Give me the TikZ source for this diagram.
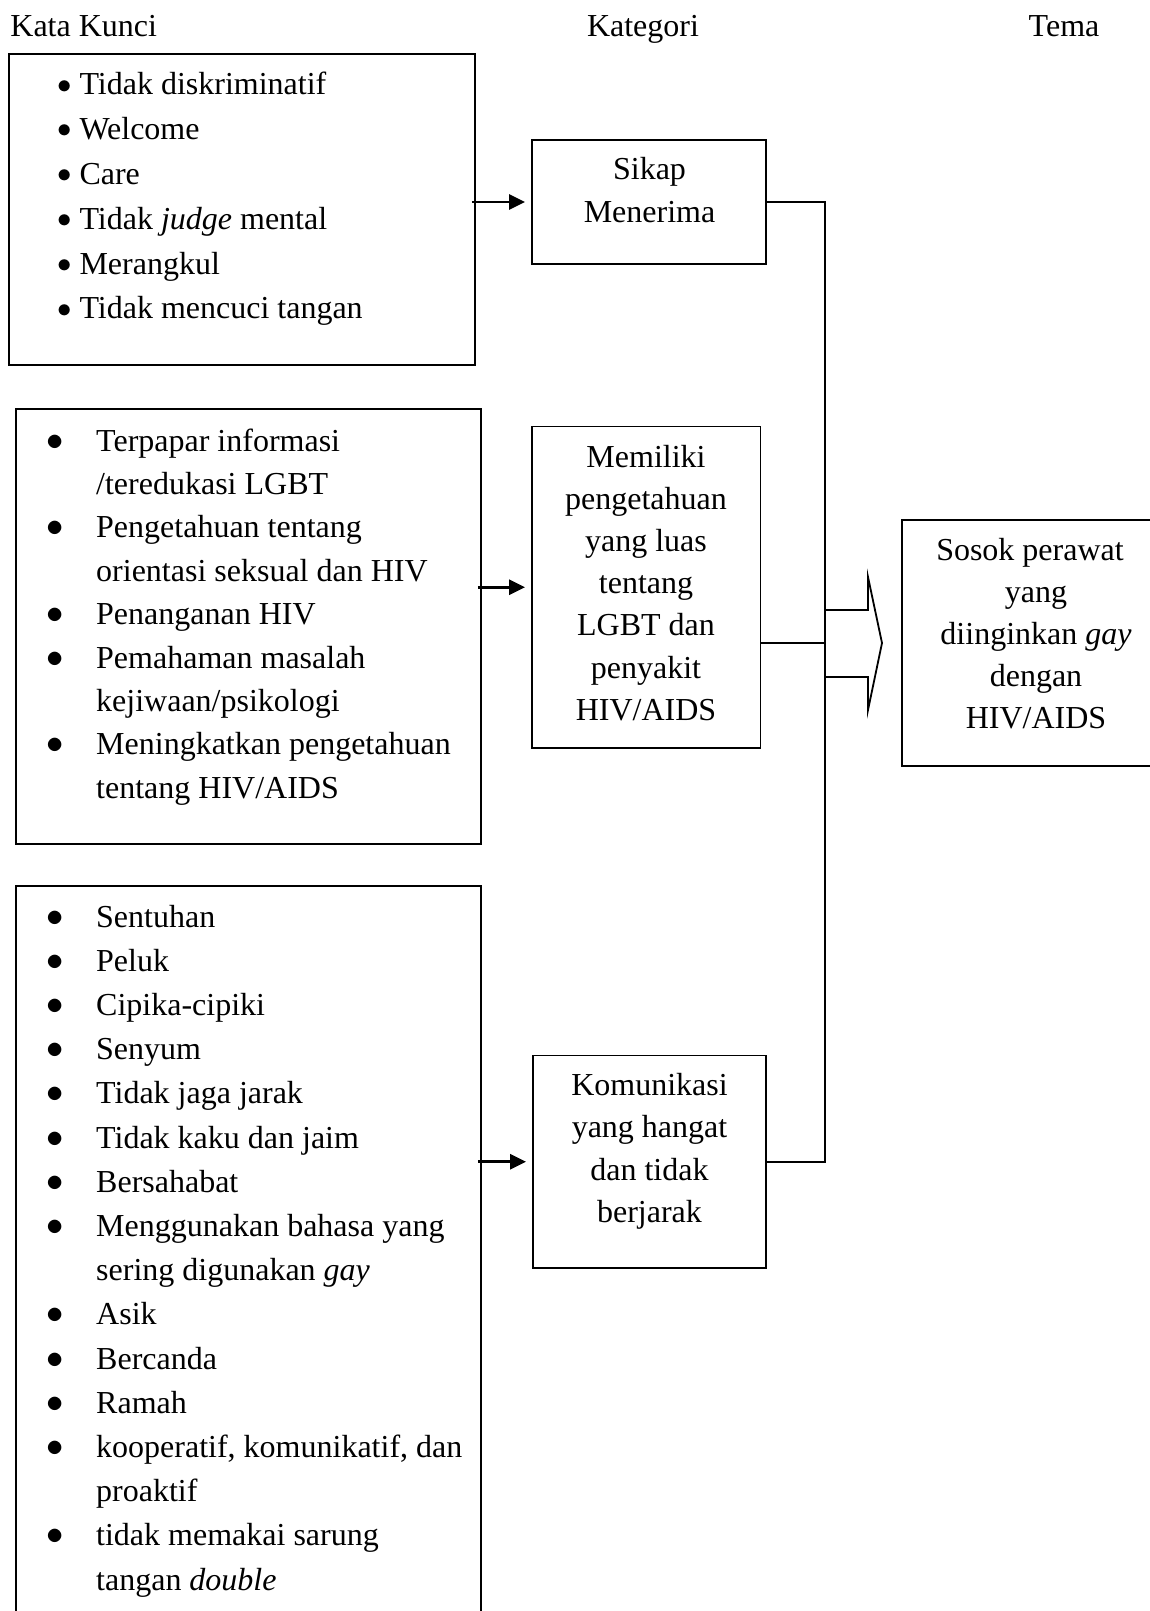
\documentclass[tikz,border=0pt]{standalone}
\usepackage{fontspec}
\setmainfont{Liberation Serif}
\usetikzlibrary{arrows.meta,positioning}

\newcommand{\bsmall}{\makebox[11.2pt][l]{\raisebox{0.9pt}{\fontsize{14}{14}\selectfont$\bullet$}}}
\newcommand{\bbig}{\makebox[24.9pt][l]{\raisebox{0.5pt}{$\bullet$}}}

\begin{document}
\begin{tikzpicture}[x=0.5pt,y=-0.5pt,
  box/.style={draw,line width=0.9pt,inner sep=0pt},
  txt/.style={inner sep=0pt,font=\fontsize{16}{21.2}\selectfont},
  line/.style={line width=0.9pt},
  arr/.style={line width=1.4pt,-{Triangle[length=8pt,width=7.5pt]},shorten >=3pt,shorten <=-2pt}]
  \useasboundingbox (0,0) rectangle (1150,1611);
  \clip (0,0) rectangle (1150,1611);
  % column heads
  \node[txt,anchor=base west] (hkk) at (10,37) {Kata Kunci};
  \node[txt,anchor=base] (hkat) at (643,37) {Kategori};
  \node[txt,anchor=base] (htema) at (1064,37) {Tema};
  % keyword boxes
  \node[box,minimum width=233pt,minimum height=155.5pt] (kk1) at (242,209.5) {};
  \node[box,minimum width=232.5pt,minimum height=217.5pt] (kk2) at (248.5,626.5) {};
  \node[box,minimum width=232.5pt,minimum height=377pt] (kk3) at (248.5,1263) {};
  \node[txt,font=\fontsize{16}{22.4}\selectfont,anchor=base west] (list1) at (56.7,95) {%
    \begin{tabular}[t]{@{}l@{}l@{}}
      \bsmall & Tidak diskriminatif\\
      \bsmall & Welcome\\
      \bsmall & Care\\
      \bsmall & Tidak \textit{judge} mental\\
      \bsmall & Merangkul\\
      \bsmall & Tidak mencuci tangan
    \end{tabular}};
  \node[txt,font=\fontsize{16}{21.7}\selectfont,anchor=base west] (list2) at (46,451) {%
    \begin{tabular}[t]{@{}l@{}l@{}}
      \bbig & Terpapar informasi\\
            & /teredukasi LGBT\\
      \bbig & Pengetahuan tentang\\
            & orientasi seksual dan HIV\\
      \bbig & Penanganan HIV\\
      \bbig & Pemahaman masalah\\
            & kejiwaan/psikologi\\
      \bbig & Meningkatkan pengetahuan\\
            & tentang HIV/AIDS
    \end{tabular}};
  \node[txt,font=\fontsize{16}{22.1}\selectfont,anchor=base west] (list3) at (46,927) {%
    \begin{tabular}[t]{@{}l@{}l@{}}
      \bbig & Sentuhan\\
      \bbig & Peluk\\
      \bbig & Cipika-cipiki\\
      \bbig & Senyum\\
      \bbig & Tidak jaga jarak\\
      \bbig & Tidak kaku dan jaim\\
      \bbig & Bersahabat\\
      \bbig & Menggunakan bahasa yang\\
            & sering digunakan \textit{gay}\\
      \bbig & Asik\\
      \bbig & Bercanda\\
      \bbig & Ramah\\
      \bbig & kooperatif, komunikatif, dan\\
            & proaktif\\
      \bbig & tidak memakai sarung\\
            & tangan \textit{double}
    \end{tabular}};
  % category boxes
  \node[box,minimum width=117pt,minimum height=62pt] (kat1) at (649,202) {};
  \node[box,minimum width=114.25pt,minimum height=160.75pt] (kat2) at (646.25,587.25) {};
  \node[box,minimum width=116.5pt,minimum height=106.25pt] (kat3) at (649.5,1161.75) {};
  \node[txt,font=\fontsize{16}{21.6}\selectfont,anchor=base] (t1) at (649.5,179.6) {%
    \begin{tabular}[t]{@{}c@{}}Sikap\\ Menerima\end{tabular}};
  \node[txt,font=\fontsize{16}{21.1}\selectfont,anchor=base] (t2) at (646,467) {%
    \begin{tabular}[t]{@{}c@{}}Memiliki\\ pengetahuan\\ yang luas\\ tentang\\ LGBT dan\\ penyakit\\ HIV/AIDS\end{tabular}};
  \node[txt,font=\fontsize{16}{21.3}\selectfont,anchor=base] (t3) at (649.5,1095) {%
    \begin{tabular}[t]{@{}c@{}}Komunikasi\\ yang hangat\\ dan tidak\\ berjarak\end{tabular}};
  % theme box
  \node[box,minimum width=134pt,minimum height=123pt] (tema) at (1036,643) {};
  \node[txt,font=\fontsize{16}{21.1}\selectfont,anchor=base] (t4) at (1036,560) {%
    \begin{tabular}[t]{@{}c@{}}Sosok perawat\hspace*{6pt}\\ yang\\ diinginkan \textit{gay}\\ dengan\\ HIV/AIDS\end{tabular}};
  % arrows into categories
  \draw[arr] (kk1.east |- kat1.west) -- (kat1.west);
  \draw[arr] (kk2.east |- kat2.west) -- (kat2.west);
  \draw[arr] (kk3.east |- kat3.west) -- (kat3.west);
  % joining lines and big arrow
  \coordinate (sp) at (825,643);
  \draw[line] (kat1.east) -| (sp) |- (kat3.east);
  \draw[line] (kat2.east |- sp) -- (sp);
  \draw[line] (sp) ++(0,-33) -- ++(43,0) -- ++(0,-33) -- (882,643)
    -- (868,710) -- (868,677) -- (826,677);
\end{tikzpicture}
\end{document}
